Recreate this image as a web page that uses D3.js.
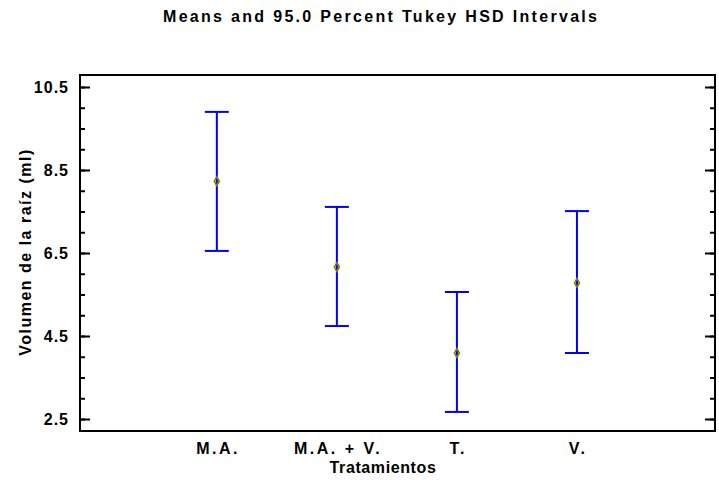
<!DOCTYPE html>
<html><head><meta charset="utf-8">
<script src="https://cdn.jsdelivr.net/npm/d3@7"></script>
<style>body{margin:0;background:#fff;} text{font-family:"Liberation Sans",Arial,sans-serif;font-weight:bold;fill:#000;}</style>
</head><body>
<script>
const categories = ["M.A.", "M.A. + V.", "T.", "V."];
const means = [8.23, 6.16, 4.09, 5.78];
const lower = [6.55, 4.74, 2.67, 4.09];
const upper = [9.90, 7.61, 5.56, 7.51];
const yTicks = [2.5, 4.5, 6.5, 8.5, 10.5];
const yMinorTicks = d3.range(2.5, 10.51, 0.5);

const W = 719, H = 485;
const L = 80, R = 715, T = 75, B = 431;
const svg = d3.select("body").append("svg").attr("width", W).attr("height", H);

const x = d3.scaleLinear().domain([-1.14, 4.15]).range([L, R]);
const y = d3.scaleLinear().domain([10.5 + 12/41.5, 2.5 - 12/41.5]).range([T, B]);

svg.append("rect").attr("x", L).attr("y", T).attr("width", R - L).attr("height", B - T)
  .attr("fill", "none").attr("stroke", "#000").attr("stroke-width", 2);

function axisTicks(axisFn, xpos) {
  const g1 = svg.append("g").attr("transform", `translate(${xpos},0)`);
  g1.call(axisFn(y).tickValues(yMinorTicks).tickSize(5).tickFormat(""));
  g1.select(".domain").remove();
  const g2 = svg.append("g").attr("transform", `translate(${xpos},0)`);
  g2.call(axisFn(y).tickValues(yTicks).tickSize(10).tickFormat(""));
  g2.select(".domain").remove();
}
axisTicks(d3.axisRight, L);
axisTicks(d3.axisLeft, R);
svg.selectAll("g .tick line").attr("stroke", "#000").attr("stroke-width", 2);

// left labels
svg.append("g").selectAll("text").data(yTicks).join("text")
  .attr("x", L - 11).attr("y", d => y(d) + 5.5)
  .attr("text-anchor", "end").attr("font-size", 16).attr("letter-spacing", "1px")
  .text(d => d.toFixed(1));

// x labels
svg.append("g").selectAll("text").data(categories).join("text")
  .attr("x", (d, i) => x(i) + 1.2).attr("y", 454).attr("text-anchor", "middle")
  .attr("font-size", 16).attr("letter-spacing", "2.5px").text(d => d);

// intervals
const gi = svg.append("g");
categories.forEach((c, i) => {
  const cx = x(i);
  gi.append("line").attr("x1", cx).attr("x2", cx).attr("y1", y(upper[i])).attr("y2", y(lower[i]))
    .attr("stroke", "#0000ff").attr("stroke-width", 2);
  [upper[i], lower[i]].forEach(v => {
    gi.append("line").attr("x1", cx - 12).attr("x2", cx + 12).attr("y1", y(v)).attr("y2", y(v))
      .attr("stroke", "#0000ff").attr("stroke-width", 2);
  });
  gi.append("path").attr("d", d3.symbol(d3.symbolDiamond, 22)())
    .attr("transform", `translate(${cx},${y(means[i])})`)
    .attr("fill", "none").attr("stroke", "#808000").attr("stroke-width", 1.6);
});

svg.append("text").attr("x", 163).attr("y", 22).attr("text-anchor", "start")
  .attr("font-size", 16).attr("textLength", 434).attr("lengthAdjust", "spacing")
  .text("Means and 95.0 Percent Tukey HSD Intervals");
svg.append("text").attr("x", 383).attr("y", 473).attr("text-anchor", "middle")
  .attr("font-size", 16).attr("letter-spacing", "0.6px").text("Tratamientos");
svg.append("text").attr("transform", `translate(31,252) rotate(-90)`).attr("text-anchor", "middle")
  .attr("font-size", 16).attr("letter-spacing", "1.5px").text("Volumen de la raíz (ml)");
</script>
</body></html>
